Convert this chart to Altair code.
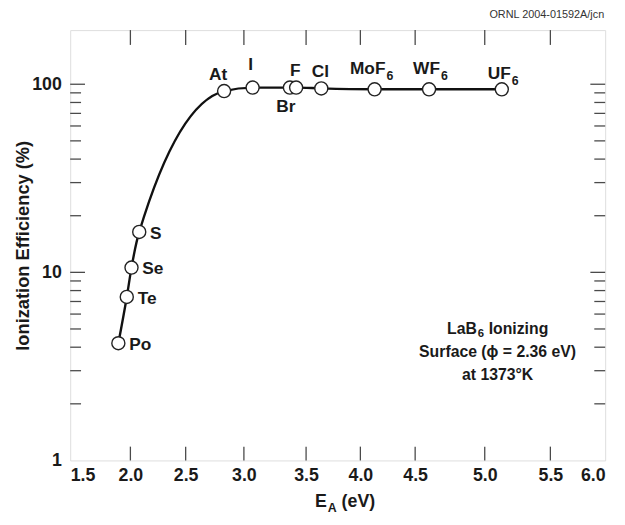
import altair as alt
import pandas as pd

# ---- data ----
species = ["Po", "Te", "Se", "S", "At", "I", "Br", "F", "Cl", "MoF6", "WF6", "UF6"]
label_main = ["Po", "Te", "Se", "S", "At", "I", "Br", "F", "Cl", "MoF", "WF", "UF"]
label_sub = ["", "", "", "", "", "", "", "", "", "6", "6", "6"]
electron_affinity = [1.90, 1.97, 2.01, 2.08, 2.83, 3.07, 3.37, 3.42, 3.64, 4.13, 4.60, 5.13]
efficiency = [4.2, 7.4, 10.6, 16.4, 92, 96, 96, 96, 95, 94, 94, 94]

x_tick_values = [1.5, 2.0, 2.5, 3.0, 3.5, 4.0, 4.5, 5.0, 5.5, 6.0]
x_inner_ticks = [2.0, 2.5, 3.0, 3.5, 4.0, 4.5, 5.0, 5.5]
y_label_values = [1, 10, 100]
y_major_ticks = [10, 100]
y_minor_ticks = [2, 3, 4, 5, 6, 7, 8, 9, 20, 30, 40, 50, 60, 70, 80, 90]

note_line1 = ["LaB", "6", "Ionizing"]
note_lines = ["Surface (\u03d5 = 2.36 eV)", "at 1373\u00b0K"]
x_title_parts = ["E", "A", "(eV)"]
y_title = "Ionization Efficiency (%)"
credit = "ORNL 2004-01592A/jcn"

W, H = 542, 436
# the hand-drafted x axis of the original is slightly uneven: piecewise-linear scale
x_tick_pixels = [0, 61, 117, 176, 239, 294, 349.5, 420, 486.5, W]
FONT = "Liberation Sans"
INK = "#1a1a1a"
FRAME = "#4a4a4a"

df = pd.DataFrame({
    "species": species,
    "main": label_main,
    "sub": label_sub,
    "ea": electron_affinity,
    "eff": efficiency,
})

xs = alt.Scale(domain=x_tick_values, range=x_tick_pixels, nice=False, zero=False)
ys = alt.Scale(type="log", domain=[1, 194], nice=False)

x_axis = alt.Axis(values=x_tick_values, format=".1f", ticks=False, domain=False, grid=False,
                  labelFont=FONT, labelFontWeight="bold", labelFontSize=18, labelColor=INK,
                  labelPadding=6, title=None)
y_axis = alt.Axis(values=y_label_values, format="d", ticks=False, domain=False, grid=False,
                  labelFont=FONT, labelFontWeight="bold", labelFontSize=18, labelColor=INK,
                  labelPadding=9, title=y_title, titleFont=FONT, titleFontWeight="bold",
                  titleFontSize=18.5, titleColor=INK, titleX=-38)


def X(field):
    return alt.X(f"{field}:Q", scale=xs, axis=x_axis)


def Y(field):
    return alt.Y(f"{field}:Q", scale=ys, axis=y_axis)


base = alt.Chart(df).encode(x=X("ea"), y=Y("eff"))

curve = base.mark_line(interpolate="monotone", color="#111111", strokeWidth=2.4)
points = base.mark_point(shape="circle", filled=True, fill="white", stroke="#222222",
                         strokeWidth=1.4, size=175, opacity=1)


def labels(names, dx, dy, align="center", field="main", size=17.5):
    return base.transform_filter(
        alt.FieldOneOfPredicate(field="species", oneOf=names)
    ).mark_text(dx=dx, dy=dy, align=align, baseline="middle", font=FONT,
                fontWeight="bold", fontSize=size, color=INK).encode(text=f"{field}:N")


label_layers = [
    labels(["Po", "Te", "Se", "S"], 11, 2, align="left"),
    labels(["At"], -6, -16),
    labels(["I"], -2, -23),
    labels(["F", "Cl"], -1, -17),
    labels(["Br"], -4, 20),
    labels(["MoF6", "WF6"], 11, -20, align="right"),
    labels(["MoF6", "WF6"], 12, -13, align="left", field="sub", size=12.5),
    labels(["UF6"], 9, -15, align="right"),
    labels(["UF6"], 10, -8, align="left", field="sub", size=12.5),
]

# inward ticks on all four sides
xt = pd.DataFrame({"ea": x_inner_ticks})
ymaj = pd.DataFrame({"eff": y_major_ticks})
ymin = pd.DataFrame({"eff": y_minor_ticks})
tick_style = dict(stroke=FRAME, strokeWidth=1.3)
ticks = [
    alt.Chart(xt).mark_rule(**tick_style).encode(x=X("ea"), y=alt.value(H), y2=alt.value(H - 14)),
    alt.Chart(xt).mark_rule(**tick_style).encode(x=X("ea"), y=alt.value(0), y2=alt.value(15)),
    alt.Chart(ymaj).mark_rule(**tick_style).encode(y=Y("eff"), x=alt.value(0), x2=alt.value(15)),
    alt.Chart(ymaj).mark_rule(**tick_style).encode(y=Y("eff"), x=alt.value(W), x2=alt.value(W - 15)),
    alt.Chart(ymin).mark_rule(**tick_style).encode(y=Y("eff"), x=alt.value(0), x2=alt.value(11)),
    alt.Chart(ymin).mark_rule(**tick_style).encode(y=Y("eff"), x=alt.value(W), x2=alt.value(W - 11)),
]


def free_text(txt, x, y, align="center", size=16, weight="bold", color=INK, baseline="middle"):
    return alt.Chart(pd.DataFrame({"t": [txt]})).mark_text(
        align=align, baseline=baseline, font=FONT, fontWeight=weight, fontSize=size, color=color
    ).encode(text="t:N", x=alt.value(x), y=alt.value(y))


annot = [
    free_text(note_line1[0], 412, 303, align="right"),
    free_text(note_line1[1], 413, 308, align="left", size=11.5),
    free_text(note_line1[2], 424, 303, align="left"),
    free_text(note_lines[0], 433, 326),
    free_text(note_lines[1], 433, 349),
    # x axis title with subscript
    free_text(x_title_parts[0], 260, 478, align="right", size=18),
    free_text(x_title_parts[1], 261, 484, align="left", size=12.5),
    free_text(x_title_parts[2], 275, 478, align="left", size=18),
    # credit line
    free_text(credit, 541, -15, align="right", size=11, weight="normal", color="#333333"),
]

chart = alt.layer(*ticks, curve, points, *label_layers, *annot).properties(
    width=W, height=H,
    autosize=alt.AutoSizeParams(type="none"),
    padding={"left": 63, "top": 19, "right": 12, "bottom": 62},
).configure_view(stroke=FRAME, strokeWidth=1.5).configure(background="white")

chart.save("out.html", embed_options={"renderer": "svg", "actions": False})
